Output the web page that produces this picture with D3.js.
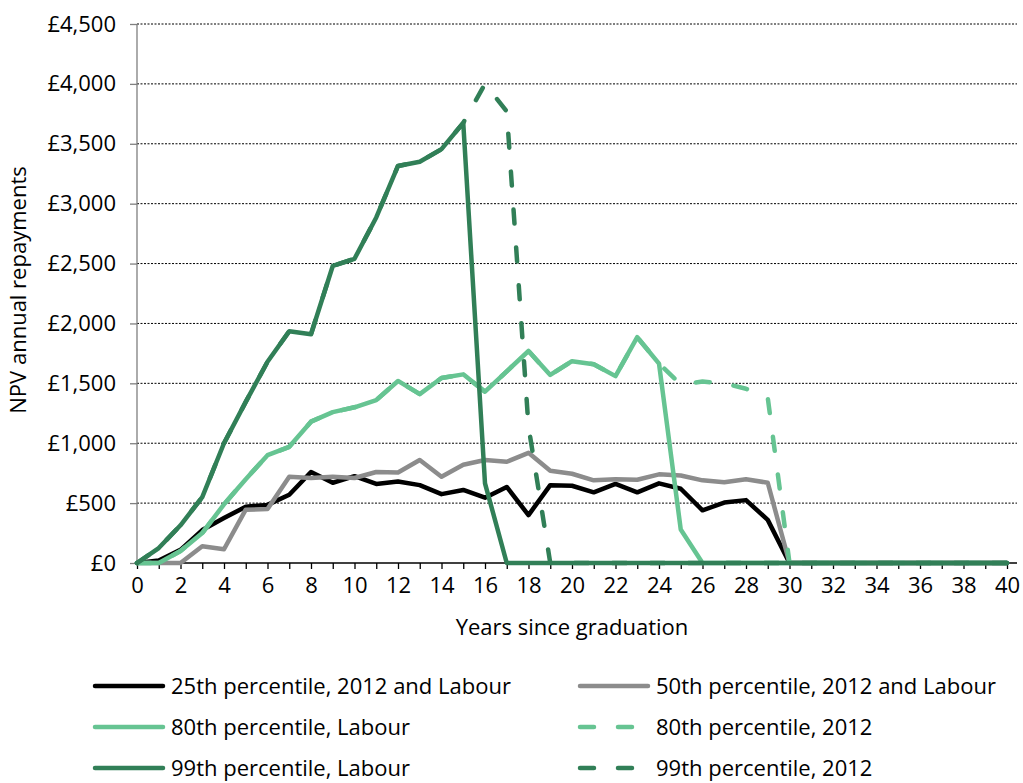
<!DOCTYPE html>
<html>
<head>
<meta charset="utf-8">
<script src="https://cdn.jsdelivr.net/npm/d3@7"></script>
<style>
  body { margin: 0; background: #fff; }
  text { font-family: "Open Sans", "Noto Sans", sans-serif; fill: #000; }
</style>
</head>
<body>
<svg id="svg"></svg>
<script>
var width = 1023, height = 783;

// years since graduation
var years = [0,1,2,3,4,5,6,7,8,9,10,11,12,13,14,15,16,17,18,19,20,
	21,22,23,24,25,26,27,28,29,30,31,32,33,34,35,36,37,38,39,40];

var p25 = [0,20,110,275,375,470,485,570,760,670,725,660,680,650,575,610,545,635,400,650,645,
	590,660,590,665,620,440,505,525,360,0,0,0,0,0,0,0,0,0,0,0];
var p50 = [0,0,0,140,115,445,450,720,710,720,710,760,755,860,720,820,860,845,920,770,745,
	690,700,695,740,730,690,675,700,670,0,0,0,0,0,0,0,0,0,0,0];
var p80Labour = [0,0,100,250,490,700,900,970,1180,1260,1300,1360,1520,1410,1545,1575,1430,1600,1770,1570,1685,
	1660,1560,1885,1665,280,0,0,0,0,0,0,0,0,0,0,0,0,0,0,0];
var p80_2012 = [0,0,100,250,490,700,900,970,1180,1260,1300,1360,1520,1410,1545,1575,1430,1600,1770,1570,1685,
	1660,1560,1885,1665,1490,1515,1500,1455,1380,0,0,0,0,0,0,0,0,0,0,0];
var p99Labour = [0,125,315,550,1000,1345,1680,1935,1910,2480,2540,2885,3315,3350,3455,3675,665,0,0,0,0,
	0,0,0,0,0,0,0,0,0,0,0,0,0,0,0,0,0,0,0,0];
var p99_2012 = [0,125,315,550,1000,1345,1680,1935,1910,2480,2540,2885,3315,3350,3455,3675,4000,3770,1140,0,0,
	0,0,0,0,0,0,0,0,0,0,0,0,0,0,0,0,0,0,0,0];

var xTicks = [0,2,4,6,8,10,12,14,16,18,20,22,24,26,28,30,32,34,36,38,40];
var yTicks = [0,500,1000,1500,2000,2500,3000,3500,4000,4500];

var series = [
	{ name: "25th percentile, 2012 and Labour", values: p25, color: "#000000", dash: null },
	{ name: "50th percentile, 2012 and Labour", values: p50, color: "#8c8c8c", dash: null },
	{ name: "80th percentile, Labour", values: p80Labour, color: "#66c492", dash: null },
	{ name: "80th percentile, 2012", values: p80_2012, color: "#66c492", dash: "14,24" },
	{ name: "99th percentile, Labour", values: p99Labour, color: "#317f57", dash: null },
	{ name: "99th percentile, 2012", values: p99_2012, color: "#317f57", dash: "14,24" }
];

var svg = d3.select("#svg")
	.attr("width", width)
	.attr("height", height);

var plotLeft = 137, plotRight = 1007, plotTop = 24, plotBottom = 563, gridRight = 1017;

var x = d3.scaleLinear().domain([0, 40]).range([plotLeft, plotRight]);
var y = d3.scaleLinear().domain([0, 4500]).range([plotBottom, plotTop]);

// gridlines
svg.append("g")
	.selectAll("line")
	.data(yTicks.filter(function(d) { return d > 0; }))
	.enter().append("line")
	.attr("x1", plotLeft).attr("x2", gridRight)
	.attr("y1", function(d) { return y(d); })
	.attr("y2", function(d) { return y(d); })
	.attr("stroke", "#000")
	.attr("stroke-width", 1)
	.attr("stroke-dasharray", "2,1.5");

// y axis
var yAxis = svg.append("g")
	.attr("transform", "translate(" + plotLeft + ",0)")
	.call(d3.axisLeft(y).tickValues(yTicks).tickSize(7).tickPadding(14)
		.tickFormat(function(d) { return "£" + d3.format(",")(d); }));
yAxis.selectAll("path, line").attr("stroke", "#7f7f7f").attr("stroke-width", 1.3);
yAxis.select(".domain").attr("d", "M0," + plotTop + "V" + plotBottom);
yAxis.selectAll("text").attr("font-size", "22px").attr("font-family", "Open Sans");

// x axis
var xAxis = svg.append("g")
	.attr("transform", "translate(0," + plotBottom + ")")
	.call(d3.axisBottom(x).tickValues(years).tickSize(6).tickPadding(8)
		.tickFormat(function(d) { return xTicks.indexOf(d) >= 0 ? d : ""; }));
xAxis.selectAll("path, line").attr("stroke", "#000").attr("stroke-width", 1.3);
xAxis.select(".domain").attr("d", "M" + plotLeft + ",0H" + gridRight);
xAxis.selectAll("text").attr("font-size", "22px").attr("font-family", "Open Sans");

// axis titles
svg.append("text")
	.attr("x", (plotLeft + plotRight) / 2)
	.attr("y", 635)
	.attr("text-anchor", "middle")
	.attr("font-size", "22px")
	.text("Years since graduation");

svg.append("text")
	.attr("transform", "translate(26,290) rotate(-90)")
	.attr("text-anchor", "middle")
	.attr("font-size", "22px")
	.text("NPV annual repayments");

// lines
var line = d3.line()
	.x(function(d, i) { return x(years[i]); })
	.y(function(d) { return y(d); });

svg.append("g")
	.selectAll("path")
	.data(series)
	.enter().append("path")
	.attr("d", function(d) { return line(d.values); })
	.attr("fill", "none")
	.attr("stroke", function(d) { return d.color; })
	.attr("stroke-width", 4.5)
	.attr("stroke-linejoin", "round")
	.attr("stroke-linecap", "round")
	.attr("stroke-dasharray", function(d) { return d.dash; });

// legend
var legend = svg.append("g")
	.selectAll("g")
	.data(series)
	.enter().append("g")
	.attr("transform", function(d, i) {
		return "translate(" + (i % 2 === 0 ? 95 : 580) + "," + (686 + Math.floor(i / 2) * 41) + ")";
	});

legend.append("line")
	.attr("x1", 0).attr("x2", 68)
	.attr("y1", 0).attr("y2", 0)
	.attr("stroke", function(d) { return d.color; })
	.attr("stroke-width", 4.5)
	.attr("stroke-linecap", "round")
	.attr("stroke-dasharray", function(d) { return d.dash ? "14,24" : null; });

legend.append("text")
	.attr("x", 76)
	.attr("dy", "0.35em")
	.attr("font-size", "22px")
	.text(function(d) { return d.name; });
</script>
</body>
</html>
